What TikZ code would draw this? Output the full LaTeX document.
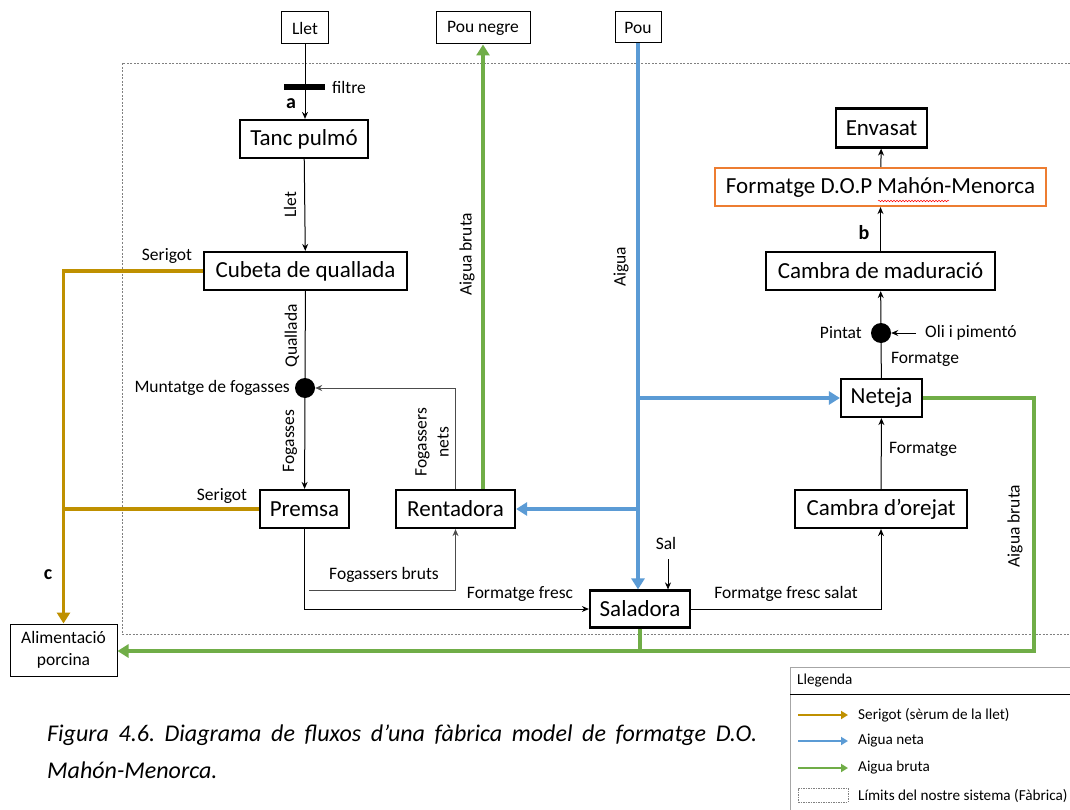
\documentclass[tikz,border=0pt]{standalone}
\usepackage{fontspec}
\setmainfont{Carlito}
\usetikzlibrary{arrows.meta,decorations.pathmorphing}
\definecolor{cgold}{HTML}{BF9000}
\definecolor{cblue}{HTML}{5B9BD5}
\definecolor{cgreen}{HTML}{70AD47}
\definecolor{corange}{HTML}{ED7D31}
\frenchspacing
\tikzset{
  box/.style={draw=black, line width=2.2pt, minimum height=38pt, inner sep=2pt, font=\fontsize{23}{26}\selectfont},
  obox/.style={box, draw=corange},
  topbox/.style={draw=black, line width=1pt, minimum height=32pt, inner sep=2pt, font=\fontsize{17.5}{20}\selectfont},
  dotnode/.style={circle, fill=black, minimum size=20pt, inner sep=0pt},
  lbl/.style={font=\fontsize{17.5}{20}\selectfont, inner sep=1pt},
  rlbl/.style={lbl, rotate=90},
  bold/.style={font=\fontsize{20}{22}\selectfont\bfseries, inner sep=0pt},
  arr/.style={line width=1pt, -{Stealth[length=7pt,width=6pt]}},
  garr/.style={arr, draw=black!70},
  colline/.style={line width=3.5pt},
  goldl/.style={colline, draw=cgold},
  bluel/.style={colline, draw=cblue},
  greenl/.style={colline, draw=cgreen},
  cat/.style={-{Triangle[length=11pt,width=13pt]}},
  leg/.style={font=\fontsize{15.2}{18}\selectfont, inner sep=1pt},
}
\begin{document}
\begin{tikzpicture}[x=1pt,y=-1pt]
\useasboundingbox (0,0) rectangle (1070,810);
\fill[white] (0,0) rectangle (1070,810);
% system boundary
\draw[gray, line width=0.8pt, dash pattern=on 2pt off 1.5pt] (1070,63) -- (122,63) -- (122,634) -- (1070,634);

% nodes
\node[topbox, minimum width=47pt] (llet) at (305,28) {Llet};
\node[topbox, minimum width=94pt] (pouneg) at (483,28) {Pou negre};
\node[topbox, minimum width=46pt, minimum height=31pt] (pou) at (638,27.5) {Pou};
\node[box, minimum width=128pt] (tanc) at (304,139) {Tanc pulmó};
\node[box, minimum width=203pt] (cubeta) at (305.5,271) {Cubeta de quallada};
\node[dotnode] (munt) at (305,388) {};
\node[box, minimum width=89pt] (premsa) at (304.5,509) {Premsa};
\node[box, minimum width=119pt] (rent) at (455.5,509) {Rentadora};
\node[box, minimum width=100pt, minimum height=37pt] (salad) at (640,609) {Saladora};
\node[box, minimum width=172pt] (orej) at (881,509) {Cambra d’orejat};
\node[box, minimum width=81pt] (neteja) at (881.5,398) {Neteja};
\node[dotnode] (pintat) at (881,333) {};
\node[box, minimum width=229pt] (madur) at (880.5,271) {Cambra de maduració};
\node[obox, minimum width=331pt] (dop) at (880.5,187) {Formatge D.O.P Mahón-Menorca};
\node[box, minimum width=91pt, minimum height=39pt] (envasat) at (881.5,128) {Envasat};
\node[topbox, minimum width=107pt, minimum height=52pt, align=center, font=\fontsize{17.5}{22}\selectfont] (alim) at (63.5,650) {Alimentació\\porcina};
\node[fill=black, minimum width=41pt, minimum height=6pt, inner sep=0pt] (filt) at (304.5,87) {};

% labels
\node[lbl, anchor=west] (filtl) at (331,87) {filtre};
\node[bold] (la) at (291,104) {a};
\node[bold] (lb) at (864,233) {b};
\node[bold] (lc) at (48,575) {c};
\node[rlbl] (l1) at (290,205) {Llet};
\node[rlbl] (l2) at (292,336) {Quallada};
\node[rlbl] (l3) at (290,441) {Fogasses};
\node[lbl, anchor=east] (l4) at (291,388) {Muntatge de fogasses};
\node[rlbl, align=center, font=\fontsize{17.5}{22}\selectfont] (l5) at (432,442) {Fogassers\\nets};
\node[lbl] (l6) at (384,575) {Fogassers bruts};
\node[lbl] (l7) at (520,594) {Formatge fresc};
\node[lbl] (l8) at (786,594) {Formatge fresc salat};
\node[lbl] (l9) at (666,543) {Sal};
\node[lbl] (l10) at (923,449) {Formatge};
\node[lbl] (l11) at (925,359) {Formatge};
\node[lbl, anchor=east] (l12) at (863,333) {Pintat};
\node[lbl, anchor=west] (l13) at (924,333) {Oli i pimentó};
\node[lbl] (l14) at (167,256) {Serigot};
\node[lbl] (l15) at (222,496) {Serigot};
\node[rlbl] (l16) at (467,254) {Aigua bruta};
\node[rlbl] (l17) at (621,267) {Aigua};
\node[rlbl] (l18) at (1015,526) {Aigua bruta};

% squiggle
\draw[red, line width=0.5pt, decorate, decoration={snake, amplitude=0.8pt, segment length=3pt}] (878,201) -- (949,201);

% black connectors
\draw[arr] (llet.south) -- (llet.south |- tanc.north);
\draw[arr] (tanc) -- (cubeta);
\draw[line width=1pt] (cubeta) -- (munt);
\draw[arr] (munt) -- (premsa);
\draw[garr] (rent.north) |- (munt.east);
\coordinate (fbs) at (309,590);
\draw[garr] (fbs) -| (rent.south);
\draw[arr] (premsa.south) |- (salad.west);
\draw[arr] (salad.east) -| (orej.south);
\coordinate (sal) at (668,559);
\draw[arr] (sal) -- (sal |- salad.north);
\draw[arr] (orej) -- (neteja);
\draw[line width=1pt] (neteja) -- (pintat);
\draw[arr] (pintat) -- (madur);
\coordinate (oli) at (916,333);
\draw[arr] (oli) -- (pintat.east);
\draw[arr] (madur) -- (dop);
\draw[arr] (dop) -- (envasat);

% coloured flows
\draw[goldl, cat] (cubeta.west) -| (alim.north);
\draw[goldl] (premsa.west) -- (premsa.west -| alim.north);
\draw[bluel, cat] (pou.south) -- (pou.south |- salad.north);
\draw[bluel, cat] (pou.south |- neteja.west) -- (neteja.west);
\draw[bluel, cat] (pou.south |- rent.east) -- (rent.east);
\draw[greenl, cat] (pouneg.south |- rent.north) -- (pouneg.south);
\coordinate (gr) at (1034,651);
\draw[greenl, cat] (neteja.east) -| (gr) -- (gr -| alim.east);
\draw[greenl] (salad.south) -- (salad.south |- gr);

% caption
\node[anchor=north west, text width=710pt, align=justify, inner sep=0pt, font=\fontsize{24}{37}\selectfont\itshape] (cap) at (47,725) {Figura 4.6. Diagrama de fluxos d’una fàbrica model de formatge D.O. Mahón-Menorca.};

% legend
\draw[black!35, line width=0.8pt] (790,810) -- (790,667) -- (1070,667);
\draw[black, line width=0.9pt] (790,694) -- (1070,694);
\node[leg, anchor=west] (lg0) at (796,681) {Llegenda};
\coordinate (a1) at (798,715); \coordinate (b1) at (848,715);
\coordinate (a2) at (798,741); \coordinate (b2) at (848,741);
\coordinate (a3) at (798,768); \coordinate (b3) at (848,768);
\draw[cgold, line width=2.5pt, -{Triangle[length=7pt,width=8pt]}] (a1) -- (b1);
\draw[cblue, line width=2.5pt, -{Triangle[length=7pt,width=8pt]}] (a2) -- (b2);
\draw[cgreen, line width=2.5pt, -{Triangle[length=7pt,width=8pt]}] (a3) -- (b3);
\node[draw=gray, line width=0.6pt, dash pattern=on 1.5pt off 1pt, minimum width=50pt, minimum height=14pt, inner sep=0pt] (lgbox) at (823,795) {};
\node[leg, anchor=west] (lg1) at (857,715) {Serigot (sèrum de la llet)};
\node[leg, anchor=west] (lg2) at (857,741) {Aigua neta};
\node[leg, anchor=west] (lg3) at (857,768) {Aigua bruta};
\node[leg, anchor=west] (lg4) at (857,796) {Límits del nostre sistema (Fàbrica)};
\end{tikzpicture}
\end{document}
